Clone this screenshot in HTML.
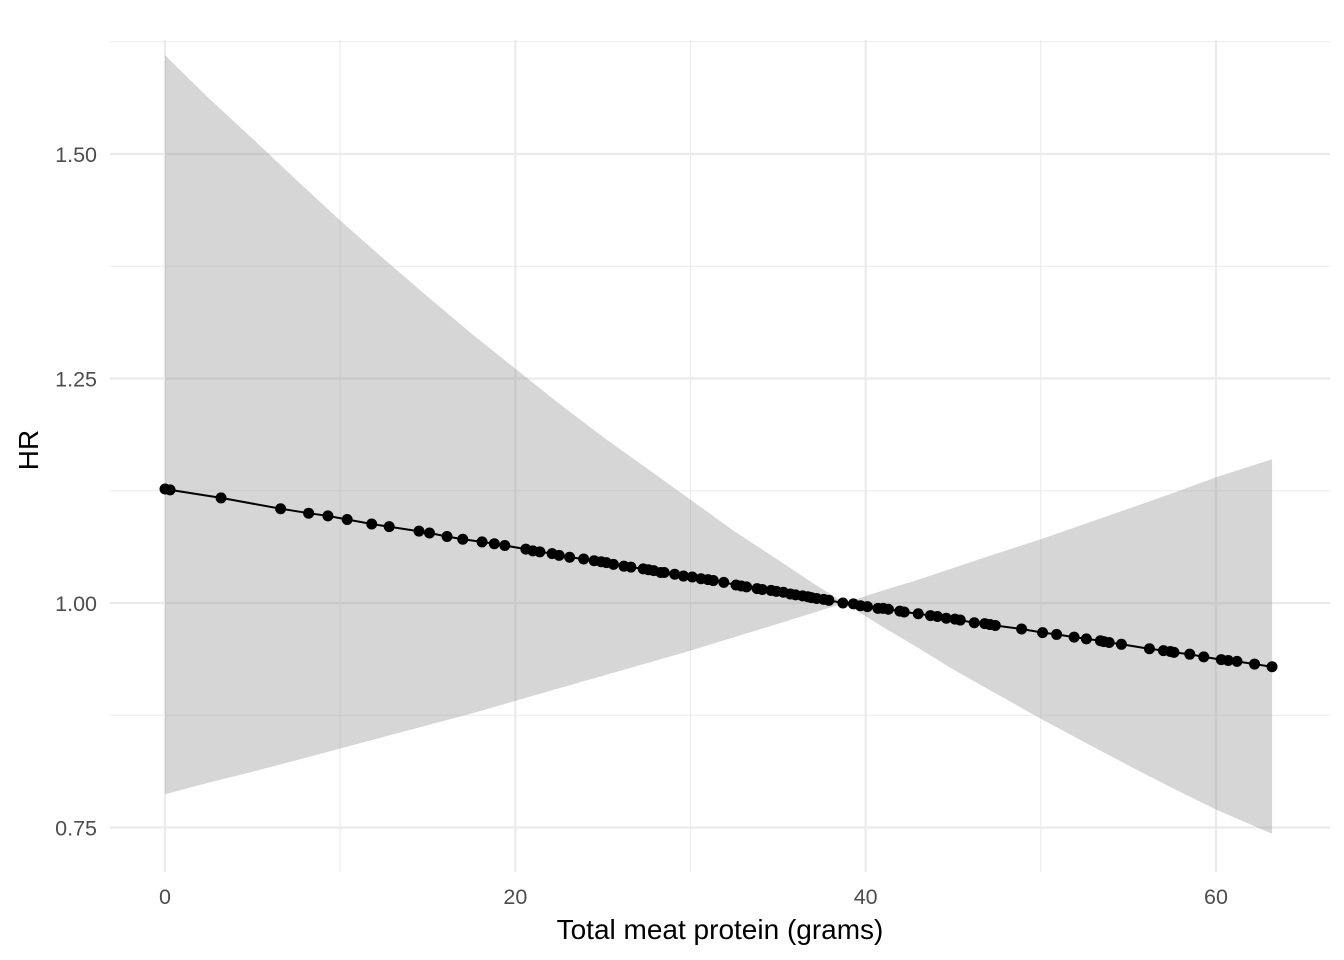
<!DOCTYPE html>
<html><head><meta charset="utf-8"><style>
html,body{margin:0;padding:0;background:#fff;}
svg{display:block;font-family:"Liberation Sans",sans-serif;}
</style></head><body>
<svg id="chart" width="1344" height="960">
<g id="grid"></g>
<g id="band"></g>
<g id="marks"></g>
<g id="axes"></g>
<text x="720" y="939" text-anchor="middle" font-size="28" fill="#000">Total meat protein (grams)</text>
<text transform="translate(38,450) rotate(-90)" text-anchor="middle" font-size="28" fill="#000">HR</text>
</svg>
<script>
const xPts=[0,0.29,3.2,6.6,8.2,9.3,10.4,11.8,12.8,14.5,15.1,16.1,17.0,18.1,18.8,19.4,20.6,21.0,21.4,22.1,22.5,23.1,23.9,24.5,24.9,25.2,25.6,26.2,26.6,27.3,27.6,27.9,28.3,28.5,29.1,29.6,30.1,30.6,31.0,31.3,31.9,32.6,32.9,33.2,33.8,34.1,34.6,34.9,35.3,35.7,36.0,36.4,36.7,36.9,37.2,37.6,37.9,38.7,39.3,39.7,40.1,40.7,41.0,41.3,41.95,42.2,43.0,43.7,44.1,44.6,45.1,45.4,46.2,46.8,47.1,47.4,48.9,50.1,50.9,51.9,52.6,53.4,53.6,53.9,54.6,56.2,57.0,57.4,57.6,58.5,59.3,60.3,60.7,61.2,62.2,63.2];
const hrPts=[1.127,1.126,1.117,1.105,1.100,1.097,1.093,1.088,1.085,1.080,1.078,1.074,1.071,1.068,1.066,1.064,1.060,1.058,1.057,1.055,1.053,1.051,1.049,1.047,1.046,1.045,1.043,1.041,1.040,1.038,1.037,1.036,1.034,1.034,1.032,1.030,1.029,1.027,1.026,1.025,1.023,1.020,1.019,1.018,1.016,1.015,1.014,1.013,1.012,1.010,1.009,1.008,1.007,1.006,1.005,1.004,1.003,1.000,0.999,0.997,0.996,0.994,0.994,0.993,0.991,0.990,0.988,0.986,0.985,0.983,0.982,0.981,0.978,0.977,0.976,0.975,0.971,0.967,0.965,0.962,0.960,0.958,0.957,0.956,0.954,0.949,0.947,0.946,0.945,0.943,0.940,0.937,0.936,0.935,0.932,0.929];
const bandX=[0,2.5,5,7.5,10,12.5,15,17.5,20,22.5,25,27.5,30,32.5,35,37,38.8,41,43,45,47,50,52.5,55,57.5,60,63.2];
const bandUpper=[1.610,1.562,1.517,1.471,1.426,1.383,1.341,1.300,1.261,1.222,1.185,1.150,1.115,1.080,1.048,1.022,1.000,1.014,1.026,1.039,1.052,1.071,1.088,1.105,1.122,1.140,1.160];
const bandLower=[0.787,0.800,0.812,0.825,0.838,0.851,0.864,0.877,0.891,0.905,0.919,0.933,0.947,0.962,0.977,0.989,1.000,0.973,0.950,0.926,0.904,0.871,0.845,0.819,0.794,0.770,0.743];
const xTicks=[0,20,40,60];
const xMinor=[10,30,50];
const yTicks=[0.75,1.00,1.25,1.50];
const yTickLabels=["0.75","1.00","1.25","1.50"];
const yMinor=[0.875,1.125,1.375,1.625];

const NS="http://www.w3.org/2000/svg";
const PL=110,PR=1330,PT=40,PB=872;
function xs(v){return 165+v*(1216-165)/60;}
function ys(v){return 603-(v-1)*(603-154)/0.5;}
function mk(tag,attrs,parent){const e=document.createElementNS(NS,tag);for(const k in attrs)e.setAttribute(k,attrs[k]);parent.appendChild(e);return e;}
const grid=document.getElementById('grid'),band=document.getElementById('band'),marks=document.getElementById('marks'),axes=document.getElementById('axes');
yMinor.forEach(v=>{const l=mk('line',{x1:PL,x2:PR,y1:ys(v),y2:ys(v),stroke:'#ebebeb','stroke-width':1.1},grid);

});
xMinor.forEach(v=>{const l=mk('line',{x1:xs(v),x2:xs(v),y1:PT,y2:PB,stroke:'#ebebeb','stroke-width':1.1},grid);

});
yTicks.forEach((v,i)=>{const l=mk('line',{x1:PL,x2:PR,y1:ys(v),y2:ys(v),stroke:'#ebebeb','stroke-width':2.2},grid);


const t=mk('text',{x:97,y:ys(v)+8,'text-anchor':'end','font-size':21.5,fill:'#4d4d4d'},axes);t.textContent=yTickLabels[i];

});
xTicks.forEach(v=>{const l=mk('line',{x1:xs(v),x2:xs(v),y1:PT,y2:PB,stroke:'#ebebeb','stroke-width':2.2},grid);


const t=mk('text',{x:xs(v),y:904,'text-anchor':'middle','font-size':21.5,fill:'#4d4d4d'},axes);t.textContent=String(v);

});
let d='';
bandX.forEach((x,i)=>{d+=(i?'L':'M')+xs(x).toFixed(1)+','+ys(bandUpper[i]).toFixed(1);});
for(let i=bandX.length-1;i>=0;i--){d+='L'+xs(bandX[i]).toFixed(1)+','+ys(bandLower[i]).toFixed(1);}
const bp=mk('path',{d:d+'Z',fill:'rgba(153,153,153,0.4)'},band);


const pts=xPts.map((x,i)=>xs(x).toFixed(1)+','+ys(hrPts[i]).toFixed(1)).join(' ');
const pl=mk('polyline',{points:pts,fill:'none',stroke:'#000','stroke-width':2},marks);


xPts.forEach((x,i)=>{const c=mk('circle',{cx:xs(x),cy:ys(hrPts[i]),r:5.5,fill:'#000'},marks);

});
</script>
</body></html>
